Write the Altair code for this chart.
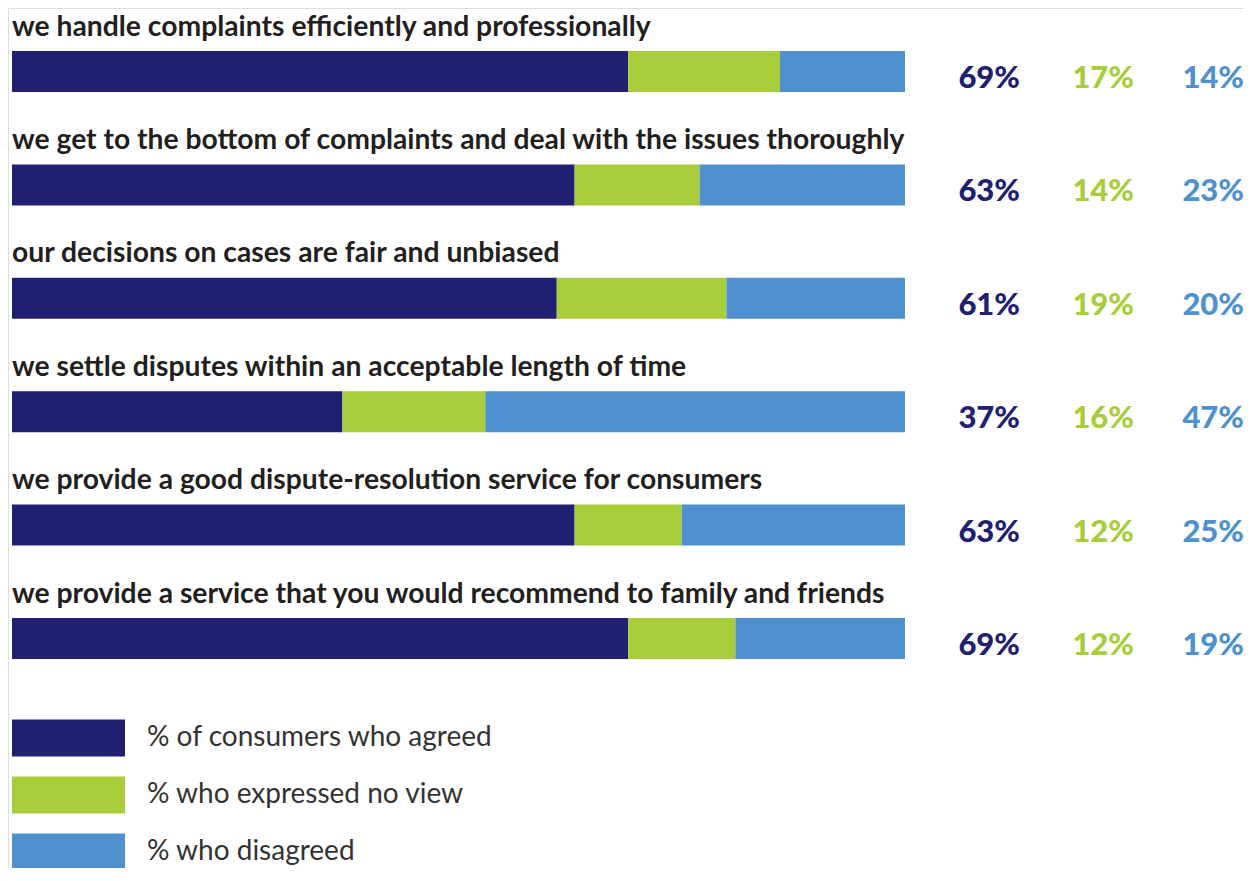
import altair as alt
import pandas as pd

statements = [
    "we handle complaints efficiently and professionally",
    "we get to the bottom of complaints and deal with the issues thoroughly",
    "our decisions on cases are fair and unbiased",
    "we settle disputes within an acceptable length of time",
    "we provide a good dispute-resolution service for consumers",
    "we provide a service that you would recommend to family and friends",
]
agreed = [69, 63, 61, 37, 63, 69]
no_view = [17, 14, 19, 16, 12, 12]
disagreed = [14, 23, 20, 47, 25, 19]

categories = ["agreed", "no view", "disagreed"]
legend_labels = ["% of consumers who agreed", "% who expressed no view", "% who disagreed"]
colors = ["#1F2071", "#A8CD3A", "#4F91CF"]

rows = []
for i, s in enumerate(statements):
    start = 0
    for cat, vals in zip(categories, [agreed, no_view, disagreed]):
        v = vals[i]
        rows.append({"row": i, "statement": s, "category": cat, "value": v,
                     "start": start, "end": start + v, "label": f"{v}%"})
        start += v
df = pd.DataFrame(rows)
lab_df = pd.DataFrame({"row": list(range(len(statements))), "statement": statements})
leg_df = pd.DataFrame({"label": legend_labels, "category": categories})

FONT = "Lato"
W, H = 1236, 860

xscale = alt.Scale(domain=[0, 100], range=[4, 897])
yscale = alt.Scale(domain=[0, 5], range=[63.5, 630.5], padding=0)
cscale = alt.Scale(domain=categories, range=colors)

base = alt.Chart(df)

bars = base.mark_bar(size=41, orient="horizontal").encode(
    x=alt.X("start:Q", scale=xscale, axis=None),
    x2="end:Q",
    y=alt.Y("row:Q", scale=yscale, axis=None),
    color=alt.Color("category:N", scale=cscale, legend=None),
)

labels = alt.Chart(lab_df).mark_text(
    align="left", baseline="alphabetic", dy=-36, font=FONT, fontWeight="bold",
    fontSize=28.3, color="#231F20"
).encode(
    x=alt.value(4),
    y=alt.Y("row:Q", scale=yscale, axis=None),
    text="statement:N",
)

pct_x = [1012, 1126, 1236]
pct_layers = []
for cat, col, px in zip(categories, colors, pct_x):
    pct_layers.append(
        base.transform_filter(alt.datum.category == cat).mark_text(
            align="right", baseline="alphabetic", dy=16.5, font=FONT, fontWeight=900,
            fontSize=31, color=col
        ).encode(
            x=alt.value(px),
            y=alt.Y("row:Q", scale=yscale, axis=None),
            text="label:N",
        )
    )

lyscale = alt.Scale(domain=legend_labels, range=[701.5, 872.5], paddingInner=0.351, paddingOuter=0.175)
leg_rect = alt.Chart(leg_df).mark_rect().encode(
    x=alt.value(4), x2=alt.value(117),
    y=alt.Y("label:N", scale=lyscale, axis=None, sort=legend_labels),
    color=alt.Color("category:N", scale=cscale, legend=None),
)
leg_text = alt.Chart(leg_df).mark_text(
    align="left", baseline="middle", font=FONT, fontSize=28, color="#333333"
).encode(
    x=alt.value(139),
    y=alt.Y("label:N", scale=lyscale, axis=None, sort=legend_labels),
    text="label:N",
)

main = alt.layer(bars, labels, *pct_layers).resolve_scale(x="shared", y="shared")
legend = alt.layer(leg_rect, leg_text)

chart = alt.layer(main, legend).resolve_scale(y="independent").properties(
    width=W, height=H, autosize="none", padding=0
).configure_view(stroke=None).configure(background="white")

chart.save("out.html", embed_options={"renderer": "svg", "actions": False})
